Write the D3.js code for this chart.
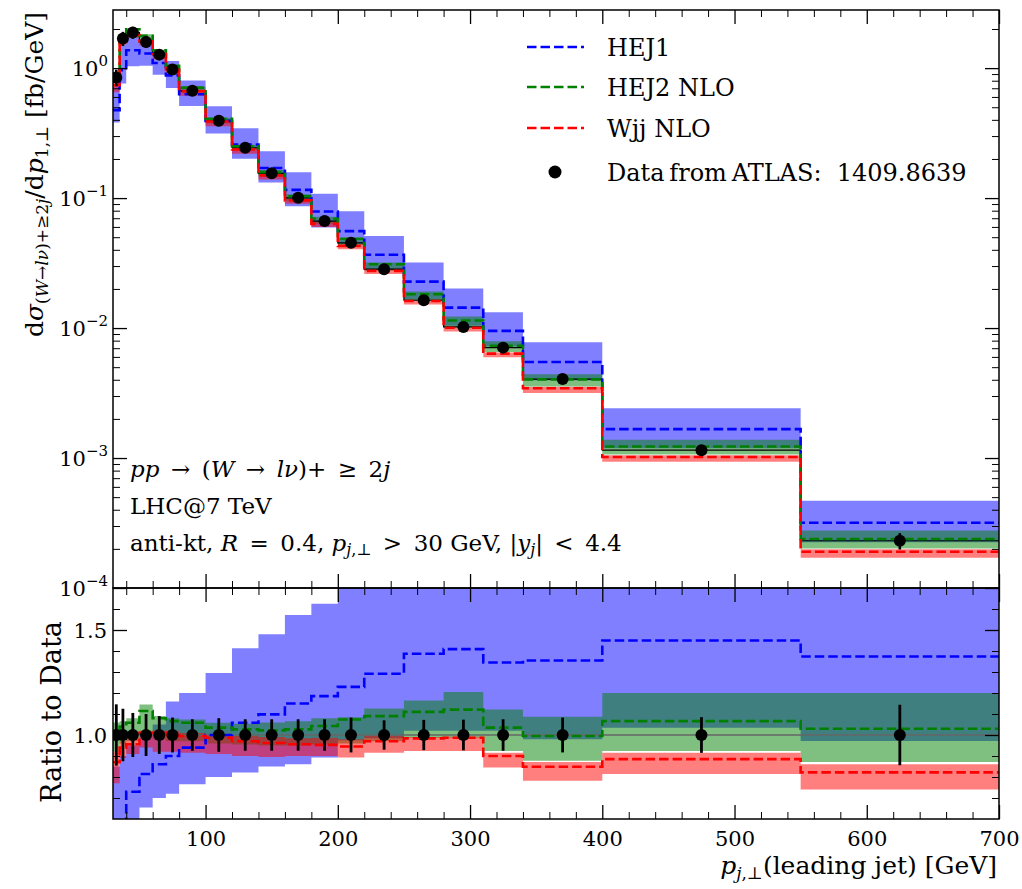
<!DOCTYPE html>
<html><head><meta charset="utf-8">
<script src="https://cdn.jsdelivr.net/npm/d3@7"></script>
<style>
body{margin:0;background:#fff}
svg{display:block}
text{font-family:"DejaVu Serif","Liberation Serif",serif;fill:#000}
</style>
</head><body>
<svg id="c" width="1022" height="889"></svg>
<script>
// ---------- data ----------
const binEdges = [30,35,40,50,60,70,80,100,120,140,160,180,200,220,250,280,310,340,400,550,700];
// ATLAS data, dsigma/dpT [fb/GeV]
const dataVals = [0.848,1.69,1.88,1.59,1.27,0.977,0.669,0.393,0.244,0.155,0.1005,0.0665,0.0453,0.0284,0.0164,0.0102,0.00707,0.00405,0.00115,0.000231];
// relative uncertainty of the data
const dataErr = [0.146,0.125,0.105,0.10,0.09,0.083,0.075,0.08,0.075,0.075,0.075,0.075,0.083,0.07,0.072,0.073,0.075,0.083,0.085,0.144];
// ratios to data: central, lower, upper
const hej1Ratio   = [0.56,0.57,0.73,0.814,0.861,0.90,0.94,1.0,1.058,1.098,1.15,1.185,1.229,1.292,1.387,1.409,1.345,1.355,1.45,1.374];
const hej1Lo      = [0.45,0.45,0.55,0.655,0.70,0.72,0.765,0.80,0.822,0.85,0.861,0.893,0.975,0.985,1.02,1.02,1.02,0.98,1.035,0.972];
const hej1Hi      = [0.85,0.90,0.95,1.0,1.05,1.16,1.20,1.295,1.413,1.48,1.571,1.625,1.75,1.80,1.95,1.98,1.87,1.92,2.1,2.03];
const hej2Ratio   = [0.98,1.04,1.058,1.114,1.08,1.066,1.058,1.035,1.027,1.022,1.027,1.043,1.074,1.09,1.11,1.121,1.035,0.995,1.066,1.03];
const hej2Lo      = [0.92,0.96,0.97,1.0,0.98,0.97,0.97,0.96,0.955,0.95,0.95,0.955,0.96,0.97,0.987,0.987,0.924,0.877,0.924,0.872];
const hej2Hi      = [1.06,1.066,1.08,1.145,1.09,1.08,1.074,1.058,1.054,1.06,1.066,1.08,1.085,1.126,1.164,1.205,1.121,1.087,1.20,1.20];
const wjjRatio    = [0.87,0.94,0.956,1.01,1.01,1.0,0.995,0.987,0.97,0.962,0.956,0.953,0.945,0.97,0.984,0.987,0.90,0.849,0.885,0.822];
const wjjLo       = [0.77,0.89,0.91,0.94,0.92,0.92,0.916,0.91,0.90,0.895,0.90,0.90,0.893,0.916,0.924,0.924,0.845,0.782,0.814,0.74];
const wjjHi       = [0.92,0.97,0.99,1.02,1.02,1.02,1.01,1.0,0.995,0.99,0.985,0.987,0.98,0.995,0.99,0.992,0.916,0.872,0.915,0.861];

const xTicks = [100,200,300,400,500,600,700];
const yMainTicks = [1e-4,1e-3,1e-2,1e-1,1];
const yMainExp = ["\u22124","\u22123","\u22122","\u22121","0"];
const yRatioTicks = [1.0,1.5];
const legendLabels = ["HEJ1","HEJ2 NLO","Wjj NLO","Data\u2009from\u2009ATLAS:  1409.8639"];

// ---------- layout ----------
const L=113, R=999, T=10, M=588, B=819;
const svg = d3.select("#c");
const x = d3.scaleLinear().domain([30,700]).range([L,R]);
const y = d3.scaleLog().domain([1e-4,2.8]).range([M,T]);
const yr = d3.scaleLinear().domain([0.6,1.7]).range([B,M]);

const colBlue="#0000ff", colGreen="#008000", colRed="#ff0000";
const series = [
  {c:hej1Ratio,lo:hej1Lo,hi:hej1Hi,col:colBlue},
  {c:hej2Ratio,lo:hej2Lo,hi:hej2Hi,col:colGreen},
  {c:wjjRatio,lo:wjjLo,hi:wjjHi,col:colRed}
];

const defs = svg.append("defs");
defs.append("clipPath").attr("id","clipM").append("rect").attr("x",L).attr("y",T).attr("width",R-L).attr("height",M-T);
defs.append("clipPath").attr("id","clipR").append("rect").attr("x",L).attr("y",M).attr("width",R-L).attr("height",B-M);

function pts(vals){const p=vals.map((v,i)=>({x:binEdges[i],v:v}));p.push({x:binEdges[binEdges.length-1],v:vals[vals.length-1]});return p;}
function bandPts(lo,hi){const p=lo.map((v,i)=>({x:binEdges[i],lo:v,hi:hi[i]}));p.push({x:binEdges[binEdges.length-1],lo:lo[lo.length-1],hi:hi[hi.length-1]});return p;}
const mul = arr => arr.map((v,i)=>v*dataVals[i]);

function drawBands(g, ys, f){
  series.forEach(s=>{
    const area=d3.area().x(d=>x(d.x)).y0(d=>ys(d.lo)).y1(d=>ys(d.hi)).curve(d3.curveStepAfter);
    g.append("path").attr("d",area(bandPts(f(s.lo),f(s.hi))))
      .attr("fill",s.col).attr("fill-opacity",0.5).attr("stroke","none");
  });
}
function drawLines(g, ys, f){
  series.forEach(s=>{
    const line=d3.line().x(d=>x(d.x)).y(d=>ys(d.v)).curve(d3.curveStepAfter);
    g.append("path").attr("d",line(pts(f(s.c))))
      .attr("fill","none").attr("stroke",s.col).attr("stroke-width",2.6)
      .attr("stroke-dasharray","9.5,4");
  });
}

// ---------- main panel ----------
const gM = svg.append("g").attr("clip-path","url(#clipM)");
drawBands(gM, y, mul);
gM.append("path").attr("d",d3.line().x(d=>x(d.x)).y(d=>y(d.v)).curve(d3.curveStepAfter)(pts(dataVals)))
  .attr("fill","none").attr("stroke","#000").attr("stroke-width",1.2);
drawLines(gM, y, mul);
const centers = binEdges.slice(0,-1).map((e,i)=>(e+binEdges[i+1])/2);
gM.selectAll("line.eb").data(dataVals).join("line")
  .attr("x1",(d,i)=>x(centers[i])).attr("x2",(d,i)=>x(centers[i]))
  .attr("y1",(d,i)=>y(d*(1-dataErr[i]))).attr("y2",(d,i)=>y(d*(1+dataErr[i])))
  .attr("stroke","#000").attr("stroke-width",2.6);
gM.selectAll("circle.dp").data(dataVals).join("circle")
  .attr("cx",(d,i)=>x(centers[i])).attr("cy",d=>y(d)).attr("r",6).attr("fill","#000");

// ---------- ratio panel ----------
const gR = svg.append("g").attr("clip-path","url(#clipR)");
const id = a=>a;
drawBands(gR, yr, id);
gR.append("line").attr("x1",L).attr("x2",R).attr("y1",yr(1)).attr("y2",yr(1))
  .attr("stroke","#666").attr("stroke-width",1.6);
drawLines(gR, yr, id);
gR.selectAll("line.eb").data(dataErr).join("line")
  .attr("x1",(d,i)=>x(centers[i])).attr("x2",(d,i)=>x(centers[i]))
  .attr("y1",d=>yr(1-d)).attr("y2",d=>yr(1+d))
  .attr("stroke","#000").attr("stroke-width",2.8);
gR.selectAll("circle.dp").data(dataErr).join("circle")
  .attr("cx",(d,i)=>x(centers[i])).attr("cy",yr(1)).attr("r",6).attr("fill","#000");

// ---------- axes ----------
const MAJ=14, MIN=7;
const xMinor = d3.range(40,700,20).filter(v=>v%100!==0);
const yMinor = [];
for(let k=-4;k<=0;k++) for(let m=2;m<=9;m++){const v=m*Math.pow(10,k); if(v<=2.8) yMinor.push(v);}
const rMinor = [0.7,0.8,0.9,1.1,1.2,1.3,1.4,1.6];

function ax(gen, scale, vals, size, tx, ty, labels, sw){
  const a = gen(scale).tickValues(vals).tickSize(-size).tickSizeOuter(0).tickPadding(labels?6:0);
  if(!labels) a.tickFormat("");
  const g = svg.append("g").attr("transform",`translate(${tx},${ty})`).call(a);
  g.select(".domain").remove();
  g.selectAll(".tick line").attr("stroke","#000").attr("stroke-width",sw);
  return g;
}
ax(d3.axisLeft, y, yMainTicks, MAJ, L, 0, false, 1.3);
ax(d3.axisLeft, y, yMinor, MIN, L, 0, false, 1);
ax(d3.axisRight, y, yMainTicks, MAJ, R, 0, false, 1.3);
ax(d3.axisRight, y, yMinor, MIN, R, 0, false, 1);
ax(d3.axisTop, x, xTicks, MAJ, 0, T, false, 1.3);
ax(d3.axisTop, x, xMinor, MIN, 0, T, false, 1);
ax(d3.axisBottom, x, xTicks, MAJ, 0, M, false, 1.3);
ax(d3.axisBottom, x, xMinor, MIN, 0, M, false, 1);
ax(d3.axisTop, x, xTicks, MAJ, 0, M, false, 1.3);
ax(d3.axisTop, x, xMinor, MIN, 0, M, false, 1);
ax(d3.axisLeft, yr, yRatioTicks, MAJ, L, 0, false, 1.3);
ax(d3.axisLeft, yr, rMinor, MIN, L, 0, false, 1);
ax(d3.axisRight, yr, yRatioTicks, MAJ, R, 0, false, 1.3);
ax(d3.axisRight, yr, rMinor, MIN, R, 0, false, 1);
const gxb = ax(d3.axisBottom, x, xTicks, MAJ, 0, B, true, 1.3);
ax(d3.axisBottom, x, xMinor, MIN, 0, B, false, 1);

gxb.selectAll(".tick text").attr("font-size",21).attr("font-family","DejaVu Serif").attr("fill","#000")
  .attr("dy",0).attr("y",27);

const gyl = svg.append("g");
yMainTicks.forEach((v,i)=>{
  const t = gyl.append("text").attr("x",108).attr("y",y(v)+8).attr("text-anchor","end").attr("font-size",21);
  t.append("tspan").text("10");
  t.append("tspan").attr("font-size",15).attr("dy",-10).text(yMainExp[i]);
});
yRatioTicks.forEach(v=>{
  gyl.append("text").attr("x",107).attr("y",yr(v)+8).attr("text-anchor","end").attr("font-size",21).text(d3.format(".1f")(v));
});

svg.append("rect").attr("x",L).attr("y",T).attr("width",R-L).attr("height",M-T).attr("fill","none").attr("stroke","#000").attr("stroke-width",1.5);
svg.append("rect").attr("x",L).attr("y",M).attr("width",R-L).attr("height",B-M).attr("fill","none").attr("stroke","#000").attr("stroke-width",1.5);

// ---------- axis labels ----------
const yl = svg.append("text").attr("transform","rotate(-90)").attr("x",-12).attr("y",43)
  .attr("text-anchor","end").attr("font-size",25);
yl.append("tspan").text("d");
yl.append("tspan").attr("font-style","italic").text("\u03c3");
yl.append("tspan").attr("font-size",17).attr("dy",5).text("(");
yl.append("tspan").attr("font-size",17).attr("font-style","italic").text("W");
yl.append("tspan").attr("font-size",17).text("\u2192");
yl.append("tspan").attr("font-size",17).attr("font-style","italic").text("l\u03bd");
yl.append("tspan").attr("font-size",17).text(")+\u22652");
yl.append("tspan").attr("font-size",17).attr("font-style","italic").text("j");
yl.append("tspan").attr("dy",-5).text("/d");
yl.append("tspan").attr("font-style","italic").text("p");
yl.append("tspan").attr("font-size",17).attr("dy",5).text("1,\u22a5");
yl.append("tspan").attr("dy",-5).text(" [fb/GeV]");

svg.append("text").attr("transform","rotate(-90)").attr("x",-712).attr("y",61)
  .attr("text-anchor","middle").attr("font-size",27).text("Ratio to Data");

const xl = svg.append("text").attr("x",997).attr("y",874).attr("text-anchor","end").attr("font-size",25);
xl.append("tspan").attr("font-style","italic").text("p");
xl.append("tspan").attr("font-size",17).attr("dy",5).html("<tspan font-style='italic'>j</tspan>,\u22a5");
xl.append("tspan").attr("dy",-5).text("(leading jet)  [GeV]");

// ---------- annotation ----------
const S = "\u2002"; // wider space around relations
const ann = svg.append("g").attr("font-size",23);
const a1 = ann.append("text").attr("x",130).attr("y",477);
a1.append("tspan").attr("font-style","italic").text("pp");
a1.append("tspan").text(S+"\u2192"+S+"(");
a1.append("tspan").attr("font-style","italic").text("W");
a1.append("tspan").text(S+"\u2192"+S);
a1.append("tspan").attr("font-style","italic").text("l\u03bd");
a1.append("tspan").text(")+"+S+"\u2265"+S+"2");
a1.append("tspan").attr("font-style","italic").text("j");
ann.append("text").attr("x",130).attr("y",514).text("LHC@7 TeV");
const a3 = ann.append("text").attr("x",130).attr("y",551);
a3.append("tspan").text("anti-kt, ");
a3.append("tspan").attr("font-style","italic").text("R");
a3.append("tspan").text(S+"="+S+"0.4, ");
a3.append("tspan").attr("font-style","italic").text("p");
a3.append("tspan").attr("font-size",16).attr("dy",4).html("<tspan font-style='italic'>j</tspan>,\u22a5");
a3.append("tspan").attr("dy",-4).text(S+">"+S+"30 GeV, |");
a3.append("tspan").attr("font-style","italic").text("y");
a3.append("tspan").attr("font-size",16).attr("dy",4).attr("font-style","italic").text("j");
a3.append("tspan").attr("dy",-4).text("|"+S+"<"+S+"4.4");

// ---------- legend ----------
const legY = [47,87,128,172];
const leg = svg.append("g");
[colBlue,colGreen,colRed].forEach((c,i)=>{
  leg.append("line").attr("x1",527).attr("x2",584).attr("y1",legY[i]).attr("y2",legY[i])
    .attr("stroke",c).attr("stroke-width",2.6).attr("stroke-dasharray","9.5,4");
});
leg.append("circle").attr("cx",555).attr("cy",legY[3]).attr("r",6.5).attr("fill","#000");
legendLabels.forEach((t,i)=>{
  leg.append("text").attr("x",607).attr("y",legY[i]+9).attr("font-size",24).attr("xml:space","preserve").text(t);
});
</script>
</body></html>
